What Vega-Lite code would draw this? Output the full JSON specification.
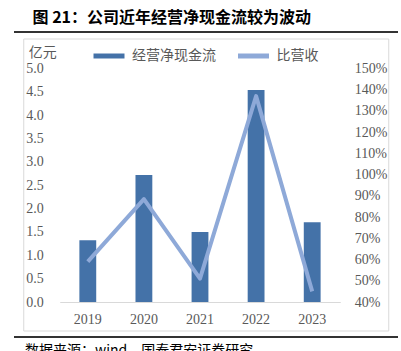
{
  "$schema": "https://vega.github.io/schema/vega-lite/v6.json",
  "autosize": {"type": "pad"},
  "padding": {"left": 14, "top": 10, "right": 0, "bottom": 0},
  "background": "white",
  "center": true,
  "spacing": 4.5,
  "config": {"view": {"stroke": null}},
  "vconcat": [
    {
      "width": 384,
      "height": 2,
      "view": {"fill": "#333333", "stroke": null},
      "title": {"text": "图 21：公司近年经营净现金流较为波动", "anchor": "start", "frame": "group", "font": "Noto Sans CJK SC", "fontSize": 16, "fontWeight": "bold", "color": "#000000", "dx": 18.5, "offset": 5},
      "data": {"values": []},
      "mark": "rule",
      "encoding": {}
    },
    {
      "width": 365,
      "height": 292,
      "view": {"stroke": "#d9d9d9", "strokeWidth": 1, "fill": "white"},
      "data": {"values": [
        {"year": "2019", "cash": 1.32, "ratio": 0.59},
        {"year": "2020", "cash": 2.72, "ratio": 0.885},
        {"year": "2021", "cash": 1.50, "ratio": 0.51},
        {"year": "2022", "cash": 4.54, "ratio": 1.37},
        {"year": "2023", "cash": 1.71, "ratio": 0.45}
      ]},
      "encoding": {
        "x": {
          "field": "year", "type": "ordinal",
          "scale": {"range": [36.5, 317], "paddingInner": 0.7, "paddingOuter": 0.35},
          "axis": {"orient": "bottom", "offset": -28.5, "domainColor": "#d9d9d9", "domainWidth": 1, "ticks": false, "labelAngle": 0, "labelPadding": 10, "title": null, "labelFont": "Liberation Serif", "labelFontSize": 14, "labelColor": "#595959"}
        }
      },
      "layer": [
        {
          "mark": {"type": "bar"},
          "encoding": {
            "y": {
              "field": "cash", "type": "quantitative",
              "scale": {"domain": [0, 5], "range": [263.5, 30], "nice": false, "zero": true},
              "axis": {"orient": "left", "offset": -21, "domain": false, "ticks": false, "grid": false, "values": [0, 0.5, 1, 1.5, 2, 2.5, 3, 3.5, 4, 4.5, 5], "format": ".1f", "labelFont": "Liberation Serif", "labelFontSize": 14, "labelColor": "#595959", "labelPadding": 1, "title": "亿元", "titleAngle": 0, "titleFont": "Noto Sans CJK SC", "titleFontSize": 14, "titleFontWeight": "normal", "titleColor": "#595959", "titleAlign": "left", "titleBaseline": "middle", "titleX": -16, "titleY": 14}
            },
            "color": {
              "datum": "经营净现金流",
              "scale": {"domain": ["经营净现金流", "比营收"], "range": ["#4472A8", "#8EA9D8"]},
              "legend": {"orient": "none", "legendX": 77, "legendY": 7, "direction": "horizontal", "symbolType": "stroke", "symbolSize": 961, "symbolStrokeWidth": 5, "labelFont": "Noto Sans CJK SC", "labelFontSize": 14, "labelColor": "#595959", "labelOffset": 5, "columnPadding": 11.5, "title": null,
                "encode": {"symbols": {"update": {"stroke": {"scale": "color", "field": "value"}, "strokeWidth": {"value": 5}, "opacity": {"value": 1}}}}}
            }
          }
        },
        {
          "mark": {"type": "line", "strokeWidth": 4, "strokeJoin": "round"},
          "encoding": {
            "y": {
              "field": "ratio", "type": "quantitative",
              "scale": {"domain": [0.4, 1.5], "range": [263.5, 30], "nice": false, "zero": false},
              "axis": {"orient": "right", "offset": -34, "domain": false, "ticks": false, "grid": false, "values": [0.4, 0.5, 0.6, 0.7, 0.8, 0.9, 1.0, 1.1, 1.2, 1.3, 1.4, 1.5], "format": ".0%", "labelFont": "Liberation Serif", "labelFontSize": 14, "labelColor": "#595959", "labelPadding": 0, "title": null}
            },
            "color": {"datum": "比营收"}
          }
        }
      ],
      "resolve": {"scale": {"y": "independent"}}
    },
    {
      "width": 384,
      "height": 2,
      "view": {"fill": "#333333", "stroke": null},
      "title": {"text": "数据来源：wind，国泰君安证券研究", "orient": "bottom", "anchor": "start", "frame": "group", "font": "Noto Sans CJK SC", "fontSize": 14, "fontWeight": "normal", "color": "#000000", "dx": 11, "offset": 6},
      "data": {"values": []},
      "mark": "rule",
      "encoding": {}
    }
  ]
}
